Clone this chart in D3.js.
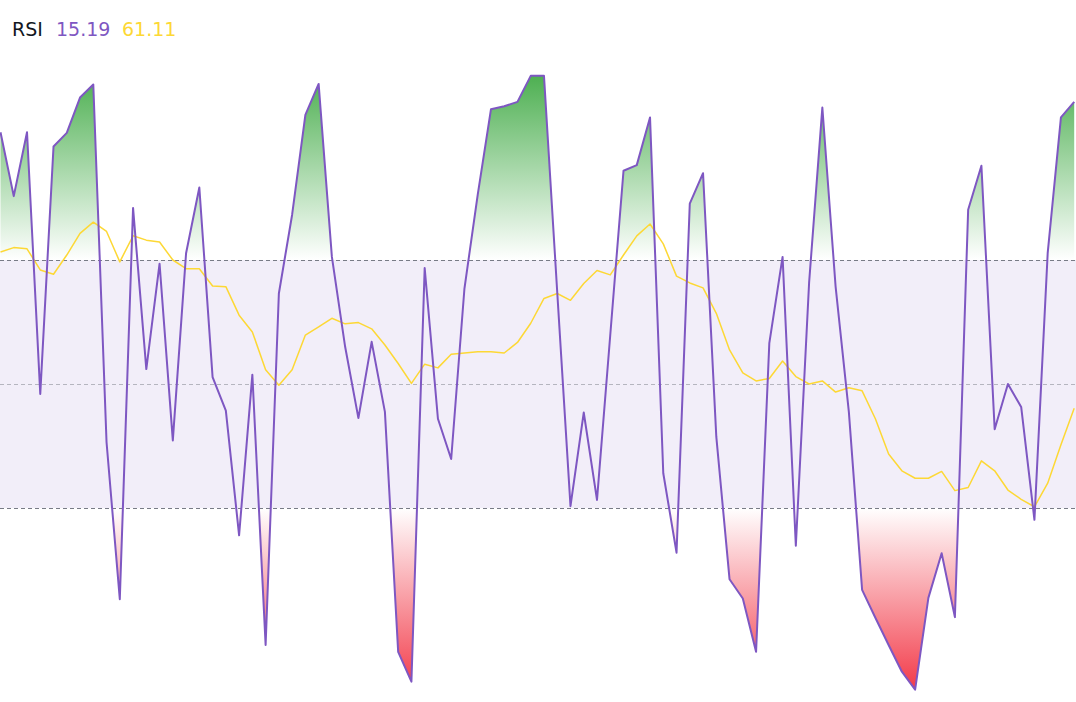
<!DOCTYPE html>
<html>
<head>
<meta charset="utf-8">
<script src="https://cdn.jsdelivr.net/npm/d3@7"></script>
<style>
  html, body { margin: 0; padding: 0; background: #ffffff; }
  svg { display: block; }
</style>
</head>
<body>
<svg id="chart" width="1076" height="702"></svg>
<script>
// ---- data ----
const rsiValues = [
  90.6, 80.3, 90.6, 48.4, 88.3, 90.5, 96.2, 98.3, 40.6, 15.3,
  78.4, 52.4, 69.4, 40.9, 71.1, 81.7, 51.1, 45.7, 25.6, 51.5,
  7.9, 64.6, 77.3, 93.4, 98.4, 70.5, 56.0, 44.5, 56.8, 45.5,
  6.8, 2.0, 68.7, 44.4, 37.9, 65.4, 80.5, 94.3, 94.8, 95.5,
  99.7, 99.7, 64.8, 30.3, 45.4, 31.3, 57.9, 84.4, 85.3, 93.0,
  35.6, 22.8, 79.1, 84.0, 41.5, 18.5, 15.4, 6.8, 56.6, 70.5,
  23.9, 66.3, 94.6, 65.7, 45.5, 16.8, 12.3, 7.9, 3.6, 0.7,
  15.5, 22.7, 12.4, 78.1, 85.2, 42.7, 50.0, 46.3, 28.1, 71.1,
  93.0, 95.5
];
const maValues = [
  71.3, 72.0, 71.8, 68.4, 67.7, 70.8, 74.3, 76.1, 74.6, 69.7,
  73.9, 73.2, 72.9, 70.0, 68.6, 68.6, 65.8, 65.7, 61.1, 58.4,
  52.3, 49.8, 52.3, 57.9, 59.2, 60.6, 59.7, 59.9, 58.9, 56.3,
  53.3, 50.1, 53.2, 52.6, 54.8, 55.0, 55.2, 55.2, 55.0, 56.7,
  59.8, 63.8, 64.6, 63.5, 66.2, 68.3, 67.6, 70.8, 73.9, 75.8,
  72.6, 67.4, 66.3, 65.5, 61.4, 55.5, 51.8, 50.5, 50.9, 53.7,
  51.2, 50.0, 50.5, 48.7, 49.4, 48.9, 44.4, 38.7, 36.0, 34.8,
  34.8, 35.9, 32.8, 33.3, 37.6, 36.0, 32.9, 31.4, 30.2, 34.0,
  40.2, 46.1
];
const bandLevels = [70, 50, 30];
const legendTitle = "RSI";
const legendValues = ["15.19", "61.11"];

// ---- layout ----
const W = 1076, H = 702;
const svg = d3.select("#chart");

const x = d3.scaleLinear().domain([0, rsiValues.length - 1]).range([0.5, 1074.2]);
const y = d3.scaleLinear().domain([0, 100]).range([694, 74]);

const defs = svg.append("defs");

// gradients
const gUp = defs.append("linearGradient")
  .attr("id", "gradUp").attr("gradientUnits", "userSpaceOnUse")
  .attr("x1", 0).attr("x2", 0).attr("y1", y(100)).attr("y2", y(70));
gUp.append("stop").attr("offset", "0%").attr("stop-color", "#4caf50").attr("stop-opacity", 1);
gUp.append("stop").attr("offset", "100%").attr("stop-color", "#4caf50").attr("stop-opacity", 0);

const gDn = defs.append("linearGradient")
  .attr("id", "gradDn").attr("gradientUnits", "userSpaceOnUse")
  .attr("x1", 0).attr("x2", 0).attr("y1", y(30)).attr("y2", y(0));
gDn.append("stop").attr("offset", "0%").attr("stop-color", "#f23645").attr("stop-opacity", 0);
gDn.append("stop").attr("offset", "100%").attr("stop-color", "#f23645").attr("stop-opacity", 1);

defs.append("clipPath").attr("id", "clipUp")
  .append("rect").attr("x", 0).attr("y", 0).attr("width", W).attr("height", y(70));
defs.append("clipPath").attr("id", "clipDn")
  .append("rect").attr("x", 0).attr("y", y(30)).attr("width", W).attr("height", H - y(30));

// band background
svg.append("rect")
  .attr("x", 0).attr("width", W)
  .attr("y", y(70)).attr("height", y(30) - y(70))
  .attr("fill", "#7e57c2").attr("fill-opacity", 0.1);

// band lines
svg.selectAll("line.level").data(bandLevels).join("line")
  .attr("class", "level")
  .attr("x1", 0).attr("x2", W)
  .attr("y1", d => Math.round(y(d)) + 0.5).attr("y2", d => Math.round(y(d)) + 0.5)
  .attr("stroke", d => d === 50 ? "rgba(120,123,134,0.5)" : "#787b86")
  .attr("stroke-width", 1)
  .attr("stroke-dasharray", "4,3");

const idx = d3.range(rsiValues.length);

// overbought / oversold fills
const areaUp = d3.area().x(i => x(i)).y0(y(70)).y1(i => y(rsiValues[i]));
const areaDn = d3.area().x(i => x(i)).y0(y(30)).y1(i => y(rsiValues[i]));
svg.append("path").datum(idx).attr("d", areaUp)
  .attr("fill", "url(#gradUp)").attr("clip-path", "url(#clipUp)");
svg.append("path").datum(idx).attr("d", areaDn)
  .attr("fill", "url(#gradDn)").attr("clip-path", "url(#clipDn)");

// MA line
svg.append("path").datum(idx)
  .attr("d", d3.line().x(i => x(i)).y(i => y(maValues[i])))
  .attr("fill", "none").attr("stroke", "#fdd835").attr("stroke-width", 1.5)
  .attr("stroke-linejoin", "round");

// RSI line
svg.append("path").datum(idx)
  .attr("d", d3.line().x(i => x(i)).y(i => y(rsiValues[i])))
  .attr("fill", "none").attr("stroke", "#7e57c2").attr("stroke-width", 2)
  .attr("stroke-linejoin", "round");

// legend
const legFont = "'DejaVu Sans', Verdana, sans-serif";
const legPos = [12, 56, 122];
const legItems = [
  { t: legendTitle, c: "#131722" },
  { t: legendValues[0], c: "#7e57c2" },
  { t: legendValues[1], c: "#fdd835" }
];
svg.selectAll("text.leg").data(legItems).join("text")
  .attr("class", "leg")
  .attr("x", (d, i) => legPos[i]).attr("y", 36)
  .attr("font-family", legFont)
  .attr("font-size", 19)
  .attr("fill", d => d.c)
  .text(d => d.t);
</script>
</body>
</html>
